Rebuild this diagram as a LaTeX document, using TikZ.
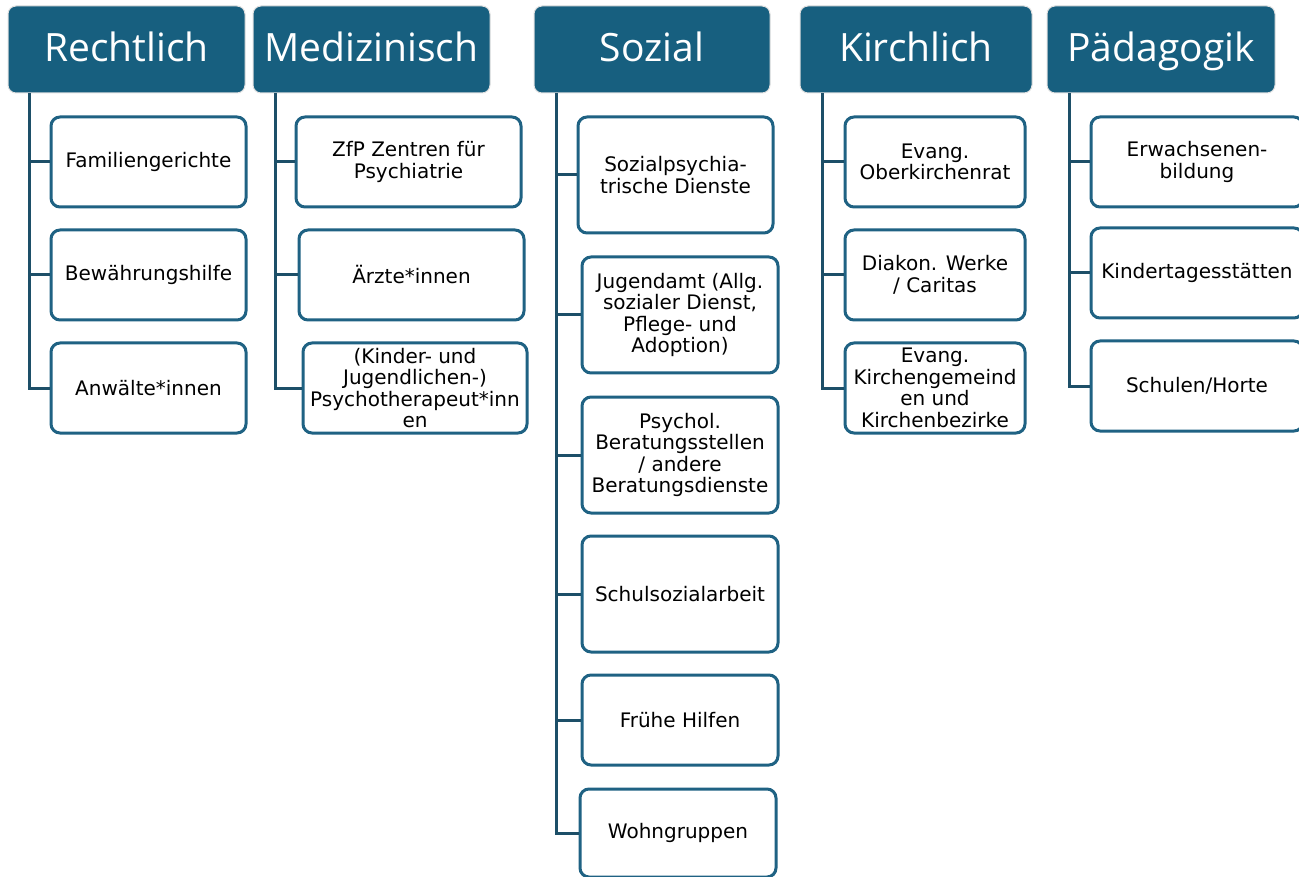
\documentclass[tikz,border=0pt]{standalone}
\usepackage{fontspec}
\setmainfont{Open Sans}
\newfontfamily\boxfont{DejaVu Sans}
\begin{document}
\begin{tikzpicture}[x=1pt,y=-1pt,
  hdr/.style={draw=black!12, line width=1pt, fill=hdrblue, rounded corners=8pt, text=white,
    font=\fontsize{39}{44}\selectfont, inner sep=0pt, minimum height=87pt, text height=30pt, text depth=6pt},
  child/.style={draw=boxblue, line width=3pt, fill=white, rounded corners=9pt, text=black,
    font=\boxfont\fontsize{20}{21.5}\selectfont, align=center, inner sep=0pt, minimum width=193pt},
  conn/.style={draw=connblue, line width=3pt}]
\definecolor{hdrblue}{HTML}{175F7F}
\definecolor{boxblue}{HTML}{1F6283}
\definecolor{connblue}{HTML}{1D4F68}
\useasboundingbox (0,0) rectangle (1299,877);
\fill[white] (0,0) rectangle (1299,877);

% headers
\node[hdr, minimum width=237pt] (h1) at (126.5,49.5) {Rechtlich};
\node[hdr, minimum width=237pt] (h2) at (371.5,49.5) {Medizinisch};
\node[hdr, minimum width=236pt] (h3) at (652,49.5) {Sozial};
\node[hdr, minimum width=232pt] (h4) at (916,49.5) {Kirchlich};
\node[hdr, minimum width=228pt] (h5) at (1161,49.5) {Pädagogik};

% trunk tops
\coordinate (t1) at (29,93);
\coordinate (t2) at (275,93);
\coordinate (t3) at (556,93);
\coordinate (t4) at (822,93);
\coordinate (t5) at (1069,93);

% Rechtlich
\node[child, minimum width=195pt, minimum height=90pt] (r1) at (148.5,162) {Familiengerichte};
\node[child, minimum width=195pt, minimum height=90pt] (r2) at (148.5,275) {Bewährungshilfe};
\node[child, minimum width=195pt, minimum height=90pt] (r3) at (148.5,388) {Anwälte*innen};

% Medizinisch
\node[child, minimum width=225pt, minimum height=90pt] (m1) at (408.5,162) {ZfP Zentren für\\Psychiatrie};
\node[child, minimum width=225pt, minimum height=90pt] (m2) at (411.5,275) {Ärzte*innen};
\node[child, minimum width=224pt, minimum height=90pt] (m3) at (415,388) {(Kinder- und\\Jugendlichen-)\\Psychotherapeut*inn\\en};

% Sozial
\node[child, minimum width=195pt, minimum height=116pt] (s1) at (675.5,175) {Sozialpsychia-\\trische Dienste};
\node[child, minimum width=196pt, minimum height=116pt] (s2) at (680,315) {Jugendamt (Allg.\\sozialer Dienst,\\Pflege- und\\Adoption)};
\node[child, minimum width=196pt, minimum height=116pt] (s3) at (680,455) {Psychol.\\Beratungsstellen\\/ andere\\Beratungsdienste};
\node[child, minimum width=196pt, minimum height=116pt] (s4) at (680,594) {Schulsozialarbeit};
\node[child, minimum width=196pt, minimum height=90pt] (s5) at (680,720) {Frühe Hilfen};
\node[child, minimum width=196pt, minimum height=88pt] (s6) at (678,833) {Wohngruppen};

% Kirchlich
\node[child, minimum width=180pt, minimum height=90pt] (k1) at (935,162) {Evang.\\Oberkirchenrat};
\node[child, minimum width=180pt, minimum height=90pt] (k2) at (935,275) {Diakon. Werke\\/ Caritas};
\node[child, minimum width=180pt, minimum height=90pt] (k3) at (935,388) {Evang.\\Kirchengemeind\\en und\\Kirchenbezirke};

% Pädagogik
\node[child, minimum width=212pt, minimum height=90pt] (p1) at (1197,162) {Erwachsenen-\\bildung};
\node[child, minimum width=212pt, minimum height=90pt] (p2) at (1197,273) {Kindertagesstätten};
\node[child, minimum width=212pt, minimum height=90pt] (p3) at (1197,386) {Schulen/Horte};

% connectors
\draw[conn] (t1) |- (r3.west);
\draw[conn] (t1 |- r1.west) -- (r1.west);
\draw[conn] (t1 |- r2.west) -- (r2.west);

\draw[conn] (t2) |- (m3.west);
\draw[conn] (t2 |- m1.west) -- (m1.west);
\draw[conn] (t2 |- m2.west) -- (m2.west);

\draw[conn] (t3) |- (s6.west);
\draw[conn] (t3 |- s1.west) -- (s1.west);
\draw[conn] (t3 |- s2.west) -- (s2.west);
\draw[conn] (t3 |- s3.west) -- (s3.west);
\draw[conn] (t3 |- s4.west) -- (s4.west);
\draw[conn] (t3 |- s5.west) -- (s5.west);

\draw[conn] (t4) |- (k3.west);
\draw[conn] (t4 |- k1.west) -- (k1.west);
\draw[conn] (t4 |- k2.west) -- (k2.west);

\draw[conn] (t5) |- (p3.west);
\draw[conn] (t5 |- p1.west) -- (p1.west);
\draw[conn] (t5 |- p2.west) -- (p2.west);
\end{tikzpicture}
\end{document}
